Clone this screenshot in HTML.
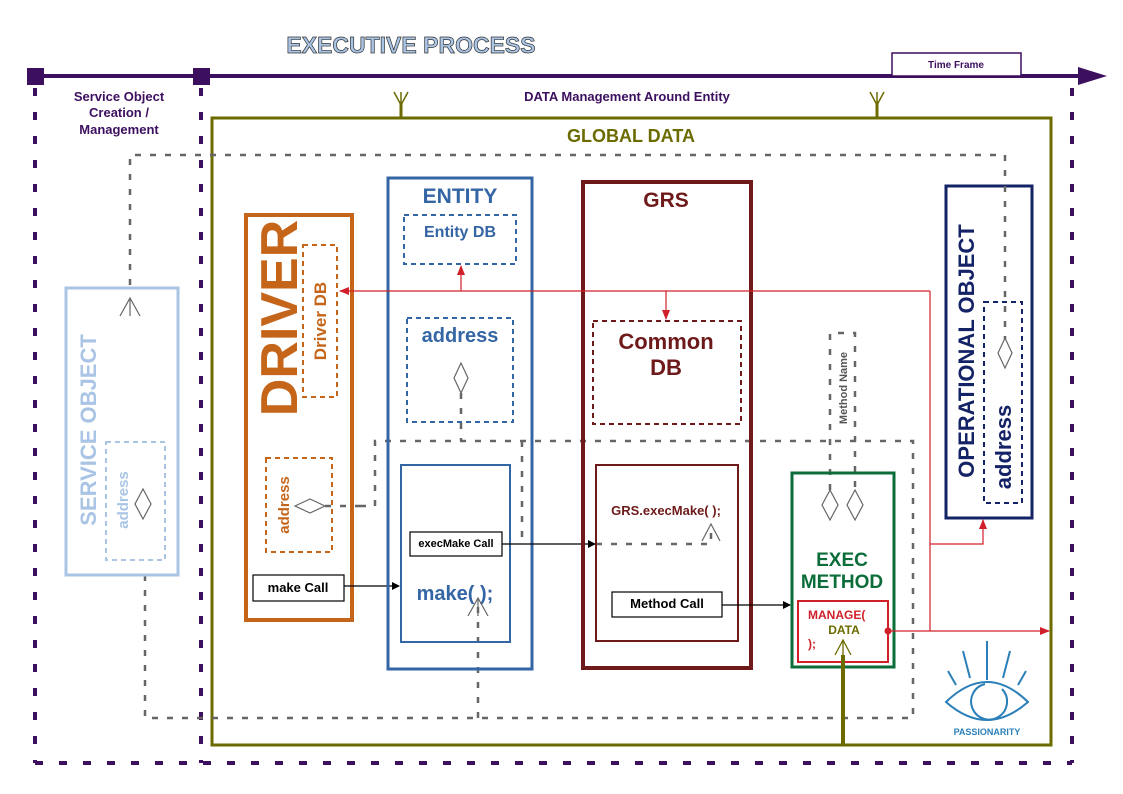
<!DOCTYPE html>
<html><head><meta charset="utf-8"><style>
body{margin:0;background:#fff}
svg{display:block;font-family:"Liberation Sans",sans-serif;font-weight:bold}
</style></head><body>
<svg width="1123" height="794" viewBox="0 0 1123 794" xmlns="http://www.w3.org/2000/svg">
<defs>
<marker id="ab" markerWidth="8" markerHeight="8" refX="7" refY="4" orient="auto" markerUnits="userSpaceOnUse"><path d="M0,0L8,4L0,8z" fill="#000"/></marker>
<marker id="ar" markerWidth="10" markerHeight="10" refX="9" refY="5" orient="auto" markerUnits="userSpaceOnUse"><path d="M0,1L10,5L0,9z" fill="#d0202a"/></marker>
</defs>
<text x="411" y="53" font-size="23" text-anchor="middle" fill="#a9c4e4" stroke="#333" stroke-width="0.7">EXECUTIVE PROCESS</text>
<line x1="35" y1="76" x2="1085" y2="76" stroke="#3d0f5f" stroke-width="4"/>
<path d="M1078,67L1107,76L1078,85z" fill="#3d0f5f"/>
<rect x="27" y="68" width="17" height="17" fill="#3d0f5f"/>
<rect x="193" y="68" width="17" height="17" fill="#3d0f5f"/>
<rect x="892" y="53" width="129" height="23" fill="#fff" stroke="#3d0f5f" stroke-width="1.5"/>
<text x="956" y="68" font-size="10" text-anchor="middle" fill="#3d0f5f">Time Frame</text>
<g stroke="#3d0f5f" stroke-width="4" stroke-dasharray="8 16" fill="none">
<line x1="35" y1="88" x2="35" y2="763"/>
<line x1="201" y1="88" x2="201" y2="763"/>
<line x1="35" y1="763" x2="1072" y2="763"/>
<line x1="1072" y1="88" x2="1072" y2="763"/>
</g>
<g font-size="13" fill="#3d0f5f" text-anchor="middle">
<text x="119" y="101">Service Object</text>
<text x="119" y="117">Creation /</text>
<text x="119" y="134">Management</text>
<text x="627" y="101">DATA Management Around Entity</text>
</g>
<rect x="212" y="118" width="839" height="627" fill="none" stroke="#6b6b00" stroke-width="3"/>
<g stroke="#6b6b00" stroke-width="1.5" fill="none"><path d="M394,92L401,105L408,92M401,92V105"/><path d="M870,92L877,105L884,92M877,92V105"/></g>
<line x1="401" y1="104" x2="401" y2="118" stroke="#6b6b00" stroke-width="3"/>
<line x1="877" y1="104" x2="877" y2="118" stroke="#6b6b00" stroke-width="3"/>
<text x="631" y="142" font-size="18" text-anchor="middle" fill="#6b6b00">GLOBAL DATA</text>
<g stroke="#666" stroke-width="2.5" stroke-dasharray="6 9" fill="none">
<path d="M130,300V155H1005V340"/>
<path d="M145,560V718H913V441H375V506H333"/>
<line x1="522" y1="441" x2="522" y2="545"/>
<line x1="461" y1="393" x2="461" y2="441"/>
<line x1="478" y1="718" x2="478" y2="605"/>
<path d="M596,544H711V528"/>
<path d="M830,490V333H855V490"/>
<line x1="143" y1="518" x2="143" y2="560"/>
</g>
<rect x="66" y="288" width="112" height="287" fill="#fff" stroke="#a9c4e4" stroke-width="3"/>
<path d="M120,316L130,298L140,316M130,298V316" stroke="#666" stroke-width="1.2" fill="none"/>
<text transform="translate(96,430) rotate(-90)" font-size="22" text-anchor="middle" fill="#a9c4e4">SERVICE OBJECT</text>
<rect x="106" y="442" width="59" height="118" fill="none" stroke="#a9c4e4" stroke-width="2" stroke-dasharray="5 4"/>
<text transform="translate(128,500) rotate(-90)" font-size="15" text-anchor="middle" fill="#a9c4e4">address</text>
<path d="M143,489L151,504L143,519L135,504z" fill="#fff" stroke="#666" stroke-width="1.2"/>
<rect x="246" y="215" width="106" height="405" fill="#fff" stroke="#c5651a" stroke-width="4"/>
<text transform="translate(297,318) rotate(-90)" font-size="52" text-anchor="middle" fill="#c5651a">DRIVER</text>
<rect x="303" y="245" width="34" height="152" fill="none" stroke="#c5651a" stroke-width="2" stroke-dasharray="5 4"/>
<text transform="translate(326,321) rotate(-90)" font-size="17" text-anchor="middle" fill="#c5651a">Driver DB</text>
<rect x="266" y="458" width="66" height="94" fill="none" stroke="#c5651a" stroke-width="2" stroke-dasharray="5 4"/>
<text transform="translate(289,505) rotate(-90)" font-size="15" text-anchor="middle" fill="#c5651a">address</text>
<path d="M295,506L310,499L325,506L310,513z" fill="#fff" stroke="#666" stroke-width="1.2"/>
<line x1="325" y1="506" x2="360" y2="506" stroke="#666" stroke-width="2.5" stroke-dasharray="6 9"/>
<rect x="253" y="575" width="91" height="26" fill="#fff" stroke="#000" stroke-width="1.2"/>
<text x="298" y="592" font-size="13" text-anchor="middle">make Call</text>
<line x1="344" y1="586" x2="399" y2="586" stroke="#000" stroke-width="1.2" marker-end="url(#ab)"/>
<rect x="388" y="178" width="144" height="491" fill="none" stroke="#3465a4" stroke-width="3"/>
<text x="460" y="203" font-size="21" text-anchor="middle" fill="#3465a4">ENTITY</text>
<rect x="404" y="215" width="112" height="49" fill="#fff" stroke="#3465a4" stroke-width="2" stroke-dasharray="5 4"/>
<text x="460" y="237" font-size="16" text-anchor="middle" fill="#3465a4">Entity DB</text>
<rect x="407" y="318" width="106" height="104" fill="#fff" stroke="#3465a4" stroke-width="2" stroke-dasharray="5 4"/>
<text x="460" y="342" font-size="20" text-anchor="middle" fill="#3465a4">address</text>
<path d="M461,363L468,378L461,393L454,378z" fill="#fff" stroke="#666" stroke-width="1.2"/>
<line x1="461" y1="393" x2="461" y2="422" stroke="#666" stroke-width="2.5" stroke-dasharray="6 9"/>
<rect x="401" y="465" width="109" height="177" fill="none" stroke="#3465a4" stroke-width="2"/>
<rect x="410" y="532" width="92" height="24" fill="#fff" stroke="#000" stroke-width="1.2"/>
<text x="456" y="547" font-size="11" text-anchor="middle">execMake Call</text>
<line x1="502" y1="544" x2="595" y2="544" stroke="#000" stroke-width="1.2" marker-end="url(#ab)"/>
<text x="455" y="600" font-size="20" text-anchor="middle" fill="#3465a4">make(  );</text>
<path d="M468,616L478,598L488,616M478,598V616" stroke="#666" stroke-width="1.2" fill="none"/>
<rect x="583" y="182" width="168" height="486" fill="none" stroke="#6e1a1a" stroke-width="4"/>
<text x="666" y="207" font-size="21" text-anchor="middle" fill="#6e1a1a">GRS</text>
<rect x="593" y="321" width="148" height="103" fill="#fff" stroke="#6e1a1a" stroke-width="2" stroke-dasharray="5 4"/>
<text x="666" y="349" font-size="22" text-anchor="middle" fill="#6e1a1a">Common</text>
<text x="666" y="375" font-size="22" text-anchor="middle" fill="#6e1a1a">DB</text>
<rect x="596" y="465" width="142" height="176" fill="none" stroke="#6e1a1a" stroke-width="2"/>
<text x="666" y="515" font-size="13" text-anchor="middle" fill="#6e1a1a">GRS.execMake(  );</text>
<path d="M702,541L711,524L720,541" stroke="#666" stroke-width="1.2" fill="none"/>
<rect x="612" y="592" width="110" height="25" fill="#fff" stroke="#000" stroke-width="1.2"/>
<text x="667" y="608" font-size="13" text-anchor="middle">Method Call</text>
<line x1="722" y1="605" x2="790" y2="605" stroke="#000" stroke-width="1.2" marker-end="url(#ab)"/>
<text transform="translate(847,388) rotate(-90)" font-size="11" text-anchor="middle" fill="#555">Method Name</text>
<rect x="792" y="473" width="102" height="194" fill="none" stroke="#0b6e3a" stroke-width="3"/>
<path d="M830,490L838,505L830,520L822,505z" fill="#fff" stroke="#666" stroke-width="1.2"/>
<path d="M855,490L863,505L855,520L847,505z" fill="#fff" stroke="#666" stroke-width="1.2"/>
<text x="842" y="566" font-size="19" text-anchor="middle" fill="#0b6e3a">EXEC</text>
<text x="842" y="588" font-size="19" text-anchor="middle" fill="#0b6e3a">METHOD</text>
<rect x="798" y="601" width="90" height="61" fill="#fff" stroke="#d0202a" stroke-width="2"/>
<text x="808" y="619" font-size="12" fill="#d0202a">MANAGE(</text>
<text x="844" y="634" font-size="12" text-anchor="middle" fill="#6b6b00">DATA</text>
<text x="808" y="648" font-size="12" fill="#d0202a">);</text>
<line x1="843" y1="655" x2="843" y2="745" stroke="#6b6b00" stroke-width="4"/>
<path d="M835,655L843,640L851,655M843,640V655" stroke="#6b6b00" stroke-width="1.3" fill="none"/>
<rect x="946" y="186" width="86" height="332" fill="#fff" stroke="#142266" stroke-width="3"/>
<text transform="translate(974,351) rotate(-90)" font-size="22" text-anchor="middle" fill="#142266">OPERATIONAL OBJECT</text>
<rect x="984" y="302" width="38" height="201" fill="none" stroke="#142266" stroke-width="2" stroke-dasharray="5 4"/>
<text transform="translate(1011,447) rotate(-90)" font-size="22" text-anchor="middle" fill="#142266">address</text>
<line x1="1005" y1="186" x2="1005" y2="340" stroke="#666" stroke-width="2.5" stroke-dasharray="6 9"/>
<path d="M1005,338L1012,353L1005,368L998,353z" fill="#fff" stroke="#666" stroke-width="1.2"/>
<g stroke="#d0202a" stroke-width="1.2" fill="none">
<line x1="930" y1="291" x2="340" y2="291" marker-end="url(#ar)"/>
<line x1="461" y1="291" x2="461" y2="266" marker-end="url(#ar)"/>
<line x1="666" y1="291" x2="666" y2="319" marker-end="url(#ar)"/>
<line x1="930" y1="291" x2="930" y2="631"/>
<path d="M930,544H983V520" marker-end="url(#ar)"/>
<line x1="888" y1="631" x2="1049" y2="631" marker-end="url(#ar)"/>
</g>
<circle cx="888" cy="631" r="3.5" fill="#d0202a"/>
<g stroke="#2a7fb8" stroke-width="2" fill="none">
<line x1="987" y1="641" x2="987" y2="680"/>
<line x1="963" y1="651" x2="970" y2="678"/>
<line x1="1010" y1="651" x2="1003" y2="678"/>
<line x1="948" y1="671" x2="956" y2="685"/>
<line x1="1026" y1="671" x2="1018" y2="685"/>
<path d="M946,702Q987,662 1028,702Q987,738 946,702z"/>
<path d="M985,684A18,18 0 1 0 1002,689"/>
</g>
<text x="987" y="735" font-size="9" text-anchor="middle" fill="#2a7fb8">PASSIONARITY</text>
</svg>
</body></html>
